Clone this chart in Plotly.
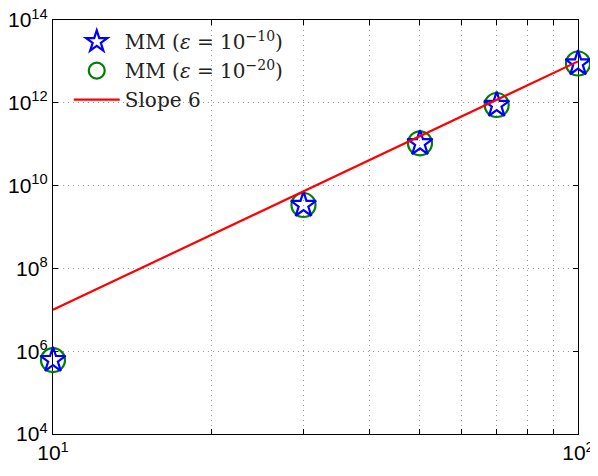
import plotly.graph_objects as go

# Data
n_vals = [10, 30, 50, 70, 100]
mm_eps10 = [6.1e5, 3.4e9, 1.05e11, 8.85e11, 8.9e12]
mm_eps20 = [6.1e5, 3.4e9, 1.05e11, 8.85e11, 8.9e12]
slope_x = [10, 100]
slope_y = [1e7, 1e13]

y_tick_vals = [1e4, 1e6, 1e8, 1e10, 1e12, 1e14]
y_tick_text = ["10<sup>4</sup>", "10<sup>6</sup>", "10<sup>8</sup>", "10<sup>10</sup>", "10<sup>12</sup>", "10<sup>14</sup>"]
x_tick_vals = [10, 20, 30, 40, 50, 60, 70, 80, 90, 100]
x_tick_text = ["10<sup>1</sup>", " ", " ", " ", " ", " ", " ", " ", " ", "10<sup>2</sup>"]

fig = go.Figure()
fig.add_trace(go.Scatter(
    x=n_vals, y=mm_eps20, mode="markers", name="MM (<i>ε</i> = 10<sup>−20</sup>)",
    marker=dict(symbol="circle-open", size=24, color="#008000", line=dict(width=2.2, color="#008000")),
    legendrank=2, cliponaxis=False,
))
fig.add_trace(go.Scatter(
    x=n_vals, y=mm_eps10, mode="markers", name="MM (<i>ε</i> = 10<sup>−10</sup>)",
    marker=dict(symbol="star-open", size=19, color="#0000FF", line=dict(width=2.2, color="#0000FF")),
    legendrank=1, cliponaxis=False,
))
fig.add_trace(go.Scatter(
    x=slope_x, y=slope_y, mode="lines", name="Slope 6",
    line=dict(color="#FF0000", width=2.2),
    legendrank=3, cliponaxis=True,
))

axis_common = dict(
    showline=True, linecolor="black", linewidth=1.3, mirror="ticks",
    ticks="inside", ticklen=5, tickcolor="black", tickwidth=1,
    showgrid=True, gridcolor="#9a9a9a", griddash="1px,4px", gridwidth=1,
    zeroline=False, tickmode="array", layer="below traces", automargin=False,
    ticklabeloverflow="allow",
    tickfont=dict(family="Liberation Sans, Arial, sans-serif", size=21, color="black"),
)

fig.update_xaxes(type="log", range=[1, 2], tickvals=x_tick_vals, ticktext=x_tick_text, **axis_common)
fig.update_yaxes(type="log", range=[4, 14], tickvals=y_tick_vals, ticktext=y_tick_text, **axis_common)

fig.update_layout(
    width=590, height=468,
    margin=dict(l=45, r=20, t=12, b=42),
    paper_bgcolor="white", plot_bgcolor="white",
    showlegend=True,
    legend=dict(
        x=0.030, y=0.995, xanchor="left", yanchor="top",
        bgcolor="rgba(0,0,0,0)", borderwidth=0,
        font=dict(family="DejaVu Serif, Liberation Serif, serif", size=20, color="#222222"),
        itemwidth=46, tracegroupgap=0,
    ),
)

fig.write_html("out.html")
